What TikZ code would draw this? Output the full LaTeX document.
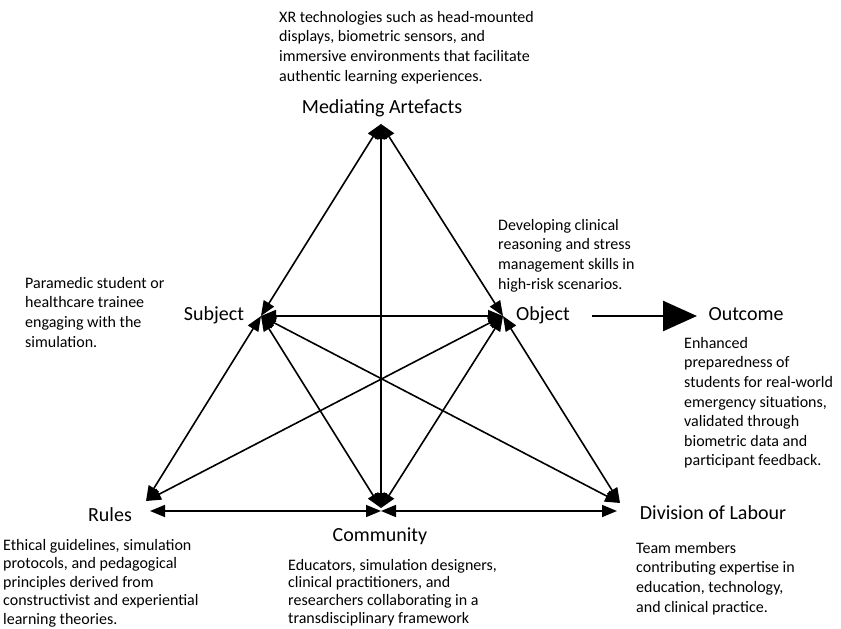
\documentclass[tikz,border=0pt]{standalone}
\usepackage{fontspec}
\setmainfont{Carlito}
\usetikzlibrary{arrows.meta}
\begin{document}
\begin{tikzpicture}[x=1pt,y=-1pt,
  link/.style={line width=1.6pt, {Triangle[length=15pt,width=12pt]}-{Triangle[length=15pt,width=12pt]}},
  lbl/.style={font=\fontsize{20}{24}\selectfont, inner sep=0pt, anchor=base},
  desc/.style={align=left, anchor=north west, inner sep=0pt, font=\fontsize{16}{19.6}\selectfont},
]
\useasboundingbox (0,0) rectangle (841,629);
% vertices
\coordinate (M) at (381,124);
\coordinate (S) at (261,316);
\coordinate (O) at (503,316);
\coordinate (R) at (146,501);
\coordinate (C) at (381,508);
\coordinate (D) at (620,503);
\coordinate (R2) at (150,511);
\coordinate (C2) at (381,511);
\coordinate (D2) at (617,511);
\coordinate (oa) at (592,316);
\coordinate (ob) at (697,316);
% connectors
\draw[link] (M) -- (S);
\draw[link] (M) -- (O);
\draw[link] (M) -- (C);
\draw[link] (S) -- (O);
\draw[link] (S) -- (R);
\draw[link] (O) -- (D);
\draw[link] (S) -- (C);
\draw[link] (O) -- (C);
\draw[link] (S) -- (D);
\draw[link] (O) -- (R);
\draw[link] (R2) -- (C2);
\draw[link] (D2) -- (C2);
\draw[line width=2.5pt, -{Triangle[length=34pt,width=30pt]}] (oa) -- (ob);
% labels
\node[lbl] (lM) at (382,113) {Mediating Artefacts};
\node[lbl] (lS) at (214,320) {Subject};
\node[lbl] (lO) at (543,320) {Object};
\node[lbl] (lOut) at (746,320) {Outcome};
\node[lbl] (lR) at (110,521) {Rules};
\node[lbl] (lC) at (380,541) {Community};
\node[lbl] (lD) at (713,519) {Division of Labour};
% descriptions
\node[desc] (dM) at (279,11) {XR technologies such as head-mounted\\displays, biometric sensors, and\\immersive environments that facilitate\\authentic learning experiences.};
\node[desc] (dS) at (25,277) {Paramedic student or\\healthcare trainee\\engaging with the\\simulation.};
\node[desc] (dO) at (498,219) {Developing clinical\\reasoning and stress\\management skills in\\high-risk scenarios.};
\node[desc] (dOut) at (684,337) {Enhanced\\preparedness of\\students for real-world\\emergency situations,\\validated through\\biometric data and\\participant feedback.};
\node[desc, font=\fontsize{16}{18.5}\selectfont] (dR) at (3,539) {Ethical guidelines, simulation\\protocols, and pedagogical\\principles derived from\\constructivist and experiential\\learning theories.};
\node[desc, font=\fontsize{16}{17.6}\selectfont] (dC) at (288,559) {Educators, simulation designers,\\clinical practitioners, and\\researchers collaborating in a\\transdisciplinary framework};
\node[desc] (dD) at (636,542) {Team members\\contributing expertise in\\education, technology,\\and clinical practice.};
\end{tikzpicture}
\end{document}
